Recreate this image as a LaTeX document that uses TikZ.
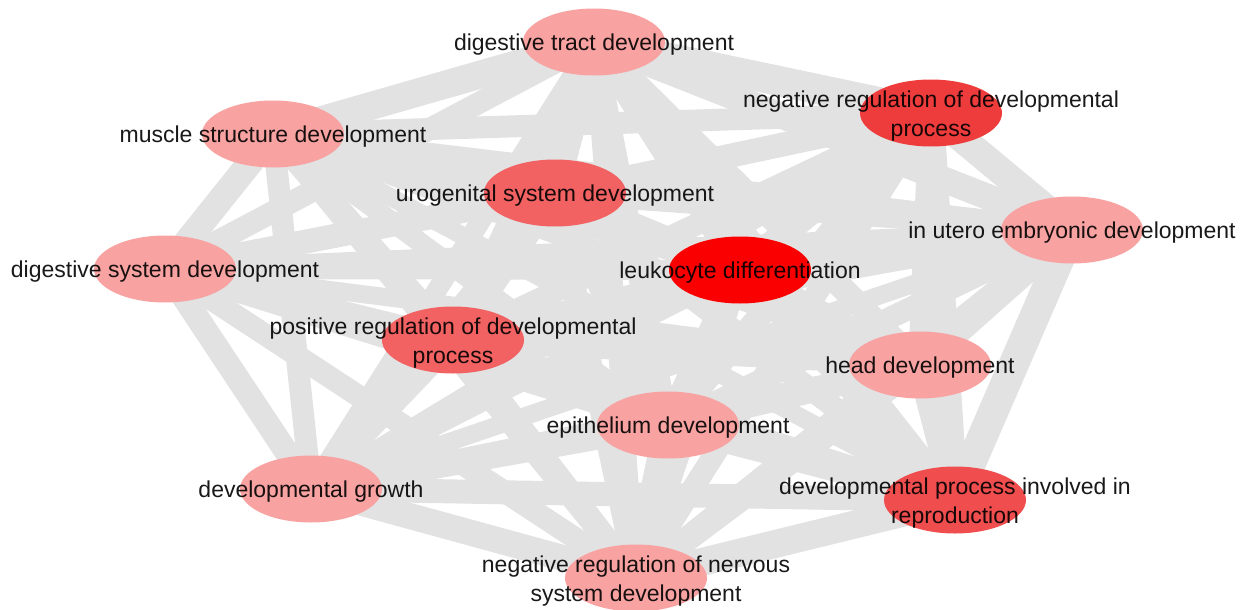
\documentclass[tikz,border=0pt]{standalone}
\usepackage{fontspec}
\setmainfont{Liberation Sans}
\usetikzlibrary{shapes.geometric,backgrounds}

\definecolor{edgegrey}{RGB}{226,226,226}
\definecolor{termlight}{RGB}{248,162,162}
\definecolor{termmid}{RGB}{242,98,98}
\definecolor{termrepro}{RGB}{240,78,78}
\definecolor{termdeep}{RGB}{238,60,60}
\definecolor{termtop}{RGB}{250,0,0}

\tikzset{
  term/.style={ellipse, draw=none, inner sep=0pt,
               minimum width=142pt, minimum height=67pt},
  termlabel/.style={font=\fontsize{23}{28.5}\selectfont, text=black,
                    text opacity=0.9, align=center, inner sep=0pt,
                    yshift=-3pt},
  link/.style={draw=edgegrey, line cap=butt},
}

\begin{document}
\begin{tikzpicture}[x=1pt, y=-1pt]
  \useasboundingbox (0,0) rectangle (1250,610);

  % GO terms, shaded by significance
  \node[term, fill=termlight] (A) at (594,42)  {};
  \node[term, fill=termlight] (B) at (273,134) {};
  \node[term, fill=termmid]   (C) at (555,193) {};
  \node[term, fill=termlight] (D) at (165,269) {};
  \node[term, fill=termdeep]  (E) at (931,113) {};
  \node[term, fill=termlight] (F) at (1072,230) {};
  \node[term, fill=termtop]   (G) at (740,270) {};
  \node[term, fill=termmid]   (H) at (453,340) {};
  \node[term, fill=termlight] (I) at (311,489) {};
  \node[term, fill=termlight] (J) at (668,425) {};
  \node[term, fill=termlight] (K) at (920,365) {};
  \node[term, fill=termrepro] (L) at (955,500) {};
  \node[term, fill=termlight] (M) at (636,578) {};

  % term names, centred on their ellipses
  \node[termlabel] (A-t) at (A) {digestive tract development};
  \node[termlabel] (B-t) at (B) {muscle structure development};
  \node[termlabel] (C-t) at (C) {urogenital system development};
  \node[termlabel] (D-t) at (D) {digestive system development};
  \node[termlabel] (E-t) at (E) {negative regulation of developmental\\process};
  \node[termlabel] (F-t) at (F) {in utero embryonic development};
  \node[termlabel] (G-t) at (G) {leukocyte differentiation};
  \node[termlabel] (H-t) at (H) {positive regulation of developmental\\process};
  \node[termlabel] (I-t) at (I) {developmental growth};
  \node[termlabel] (J-t) at (J) {epithelium development};
  \node[termlabel] (K-t) at (K) {head development};
  \node[termlabel] (L-t) at (L) {developmental process involved in\\reproduction};
  \node[termlabel] (M-t) at (M) {negative regulation of nervous\\system development};

  % gene-overlap links, width by overlap
  \begin{pgfonlayer}{background}
    \foreach \u/\v/\w in {
      A/B/28, A/C/26, A/D/22, A/E/30, A/F/26, A/G/24, A/H/22, A/I/20,
      A/J/22, A/K/24, A/L/22, A/M/20,
      B/C/26, B/D/26, B/E/22, B/F/20, B/G/22, B/H/24, B/I/22, B/J/20,
      B/K/18, B/L/18, B/M/20,
      C/D/24, C/E/24, C/F/22, C/G/26, C/H/26, C/I/22, C/J/24, C/K/22,
      C/L/22, C/M/22,
      D/E/18, D/F/18, D/G/20, D/H/24, D/I/24, D/J/22, D/K/18, D/L/20, D/M/22,
      E/F/28, E/G/26, E/H/22, E/I/18, E/J/24, E/K/24, E/L/26, E/M/22,
      F/G/24, F/H/20, F/I/18, F/J/22, F/K/26, F/L/30, F/M/22,
      G/H/24, G/I/20, G/J/26, G/K/24, G/L/24, G/M/24,
      H/I/24, H/J/24, H/K/22, H/L/22, H/M/24,
      I/J/24, I/K/20, I/L/24, I/M/26,
      J/K/24, J/L/26, J/M/28,
      K/L/26, K/M/24,
      L/M/28}
      \draw[link, line width=\w pt] (\u.center) -- (\v.center);
  \end{pgfonlayer}
\end{tikzpicture}
\end{document}
